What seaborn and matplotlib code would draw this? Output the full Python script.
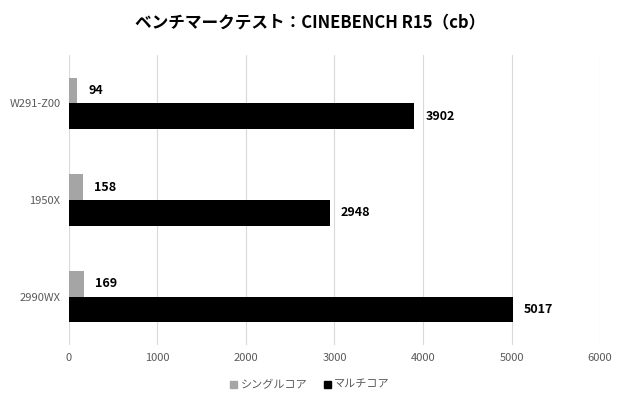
import matplotlib
matplotlib.use("Agg")
import matplotlib.pyplot as plt
import seaborn as sns
import pandas as pd
from matplotlib.patches import Patch

categories = ["W291-Z00", "1950X", "2990WX"]
series_names = ["シングルコア", "マルチコア"]
single_core = [94, 158, 169]
multi_core = [3902, 2948, 5017]
x_ticks = [0, 1000, 2000, 3000, 4000, 5000, 6000]
colors = ["#a5a5a5", "#000000"]

df = pd.DataFrame({
    "cpu": categories * 2,
    "series": [series_names[0]] * 3 + [series_names[1]] * 3,
    "score": single_core + multi_core,
})

sns.set_theme(style="white")
plt.rcParams["font.family"] = ["Noto Sans CJK JP", "DejaVu Sans"]

fig = plt.figure(figsize=(6.2, 4.0), dpi=100)
ax = fig.add_axes([0.111, 0.1375, 0.857, 0.725])

sns.barplot(data=df, y="cpu", x="score", hue="series", order=categories,
            hue_order=series_names, palette=colors, orient="h",
            width=0.53, ax=ax, legend=False, saturation=1, linewidth=0)

for c in ax.containers:
    ax.bar_label(c, padding=8, fontsize=9, fontweight="bold", color="#000000")

ax.set_xlim(0, 6000)
ax.set_ylim(2.5, -0.5)
ax.set_xticks(x_ticks)
ax.set_xticklabels([str(t) for t in x_ticks])
ax.tick_params(axis="x", length=0, pad=6, labelsize=8, labelcolor="#595959")
ax.tick_params(axis="y", length=0, pad=6, labelsize=8, labelcolor="#595959")
ax.set_xlabel("")
ax.set_ylabel("")
ax.grid(axis="x", color="#d9d9d9", linewidth=0.8)
ax.set_axisbelow(True)
for s in ax.spines.values():
    s.set_visible(False)

fig.suptitle("ベンチマークテスト：CINEBENCH R15（cb）", x=0.5, y=0.965,
             fontsize=12, fontweight="bold", color="#000000")

handles = [Patch(color=colors[i], label=series_names[i]) for i in range(2)]
fig.legend(handles=handles, loc="lower center", bbox_to_anchor=(0.5, 0.0),
           ncol=2, frameon=False, fontsize=8, handlelength=0.6, handleheight=0.6,
           handletextpad=0.3, columnspacing=1.5, labelcolor="#595959")

fig.savefig("out.png", dpi=100, facecolor="white")
